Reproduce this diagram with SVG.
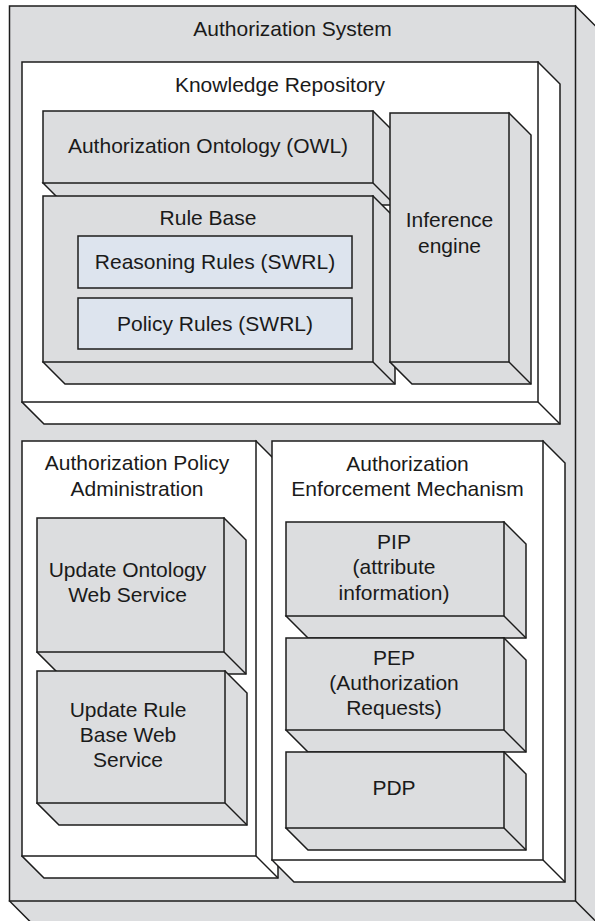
<svg xmlns="http://www.w3.org/2000/svg" width="595" height="921" viewBox="0 0 595 921">
  <style>
    .grey { fill: #dcdddf; stroke: #1c1c1c; stroke-width: 1.5; stroke-linejoin: miter; }
    .white { fill: #ffffff; stroke: #1c1c1c; stroke-width: 1.5; stroke-linejoin: miter; }
    .blue { fill: #dde4ee; stroke: #1c1c1c; stroke-width: 1.5; }
    .edge { fill: none; stroke: #1c1c1c; stroke-width: 1.5; }
    text { font-family: "Liberation Sans", Arial, sans-serif; font-size: 21px; fill: #1a1a1a; text-anchor: middle; }
  </style>
  <rect width="595" height="921" fill="#ffffff"/>

  <!-- 3D node: side+bottom silhouette, bottom-right edge, then front face (depth 22) -->
  <g id="authorization-system">
    <polygon class="grey" points="575.5,6 597.5,28 597.5,923 31.5,923 9.5,901"/>
    <line class="edge" x1="575.5" y1="901" x2="597.5" y2="923"/>
    <rect class="grey" x="9.5" y="6" width="566" height="895"/>
    <text x="292.5" y="36">Authorization System</text>
  </g>

  <g id="knowledge-repository">
    <polygon class="white" points="538,62 560,84 560,424 44,424 22,402"/>
    <line class="edge" x1="538" y1="402" x2="560" y2="424"/>
    <rect class="white" x="22" y="62" width="516" height="340"/>
    <text x="280" y="92">Knowledge Repository</text>
  </g>

  <g id="authorization-ontology">
    <polygon class="grey" points="373,111 395,133 395,205 65,205 43,183"/>
    <line class="edge" x1="373" y1="183" x2="395" y2="205"/>
    <rect class="grey" x="43" y="111" width="330" height="72"/>
    <text x="208" y="153">Authorization Ontology (OWL)</text>
  </g>

  <g id="rule-base">
    <polygon class="grey" points="373,196 395,218 395,384 65,384 43,362"/>
    <line class="edge" x1="373" y1="362" x2="395" y2="384"/>
    <rect class="grey" x="43" y="196" width="330" height="166"/>
    <text x="208" y="225">Rule Base</text>
  </g>

  <g id="reasoning-rules">
    <rect class="blue" x="78" y="236" width="274" height="52"/>
    <text x="215" y="269">Reasoning Rules (SWRL)</text>
  </g>

  <g id="policy-rules">
    <rect class="blue" x="78" y="298" width="274" height="51"/>
    <text x="215" y="331">Policy Rules (SWRL)</text>
  </g>

  <g id="inference-engine">
    <polygon class="grey" points="509,113 531,135 531,384 412,384 390,362"/>
    <line class="edge" x1="509" y1="362" x2="531" y2="384"/>
    <rect class="grey" x="390" y="113" width="119" height="249"/>
    <text x="449.5" y="227">Inference</text>
    <text x="449.5" y="253">engine</text>
  </g>

  <g id="policy-administration">
    <polygon class="white" points="256,441 278,463 278,878 44,878 22,856"/>
    <line class="edge" x1="256" y1="856" x2="278" y2="878"/>
    <rect class="white" x="22" y="441" width="234" height="415"/>
    <text x="137" y="470">Authorization Policy</text>
    <text x="137" y="496">Administration</text>
  </g>

  <g id="update-ontology-ws">
    <polygon class="grey" points="224,518 246,540 246,674 59,674 37,652"/>
    <line class="edge" x1="224" y1="652" x2="246" y2="674"/>
    <rect class="grey" x="37" y="518" width="187" height="134"/>
    <text x="127.5" y="577">Update Ontology</text>
    <text x="127.5" y="602">Web Service</text>
  </g>

  <g id="update-rule-base-ws">
    <polygon class="grey" points="225,671 247,693 247,825 59,825 37,803"/>
    <line class="edge" x1="225" y1="803" x2="247" y2="825"/>
    <rect class="grey" x="37" y="671" width="188" height="132"/>
    <text x="128" y="717">Update Rule</text>
    <text x="128" y="742">Base Web</text>
    <text x="128" y="767">Service</text>
  </g>

  <g id="enforcement-mechanism">
    <polygon class="white" points="543,441 565,463 565,882 294,882 272,860"/>
    <line class="edge" x1="543" y1="860" x2="565" y2="882"/>
    <rect class="white" x="272" y="441" width="271" height="419"/>
    <text x="407.5" y="471">Authorization</text>
    <text x="407.5" y="496">Enforcement Mechanism</text>
  </g>

  <g id="pip">
    <polygon class="grey" points="504,522 526,544 526,638 308,638 286,616"/>
    <line class="edge" x1="504" y1="616" x2="526" y2="638"/>
    <rect class="grey" x="286" y="522" width="218" height="94"/>
    <text x="394" y="549">PIP</text>
    <text x="394" y="574">(attribute</text>
    <text x="394" y="600">information)</text>
  </g>

  <g id="pep">
    <polygon class="grey" points="504,638 526,660 526,752 308,752 286,730"/>
    <line class="edge" x1="504" y1="730" x2="526" y2="752"/>
    <rect class="grey" x="286" y="638" width="218" height="92"/>
    <text x="394" y="665">PEP</text>
    <text x="394" y="690">(Authorization</text>
    <text x="394" y="715">Requests)</text>
  </g>

  <g id="pdp">
    <polygon class="grey" points="504,752 526,774 526,850 308,850 286,828"/>
    <line class="edge" x1="504" y1="828" x2="526" y2="850"/>
    <rect class="grey" x="286" y="752" width="218" height="76"/>
    <text x="394" y="795">PDP</text>
  </g>
</svg>
